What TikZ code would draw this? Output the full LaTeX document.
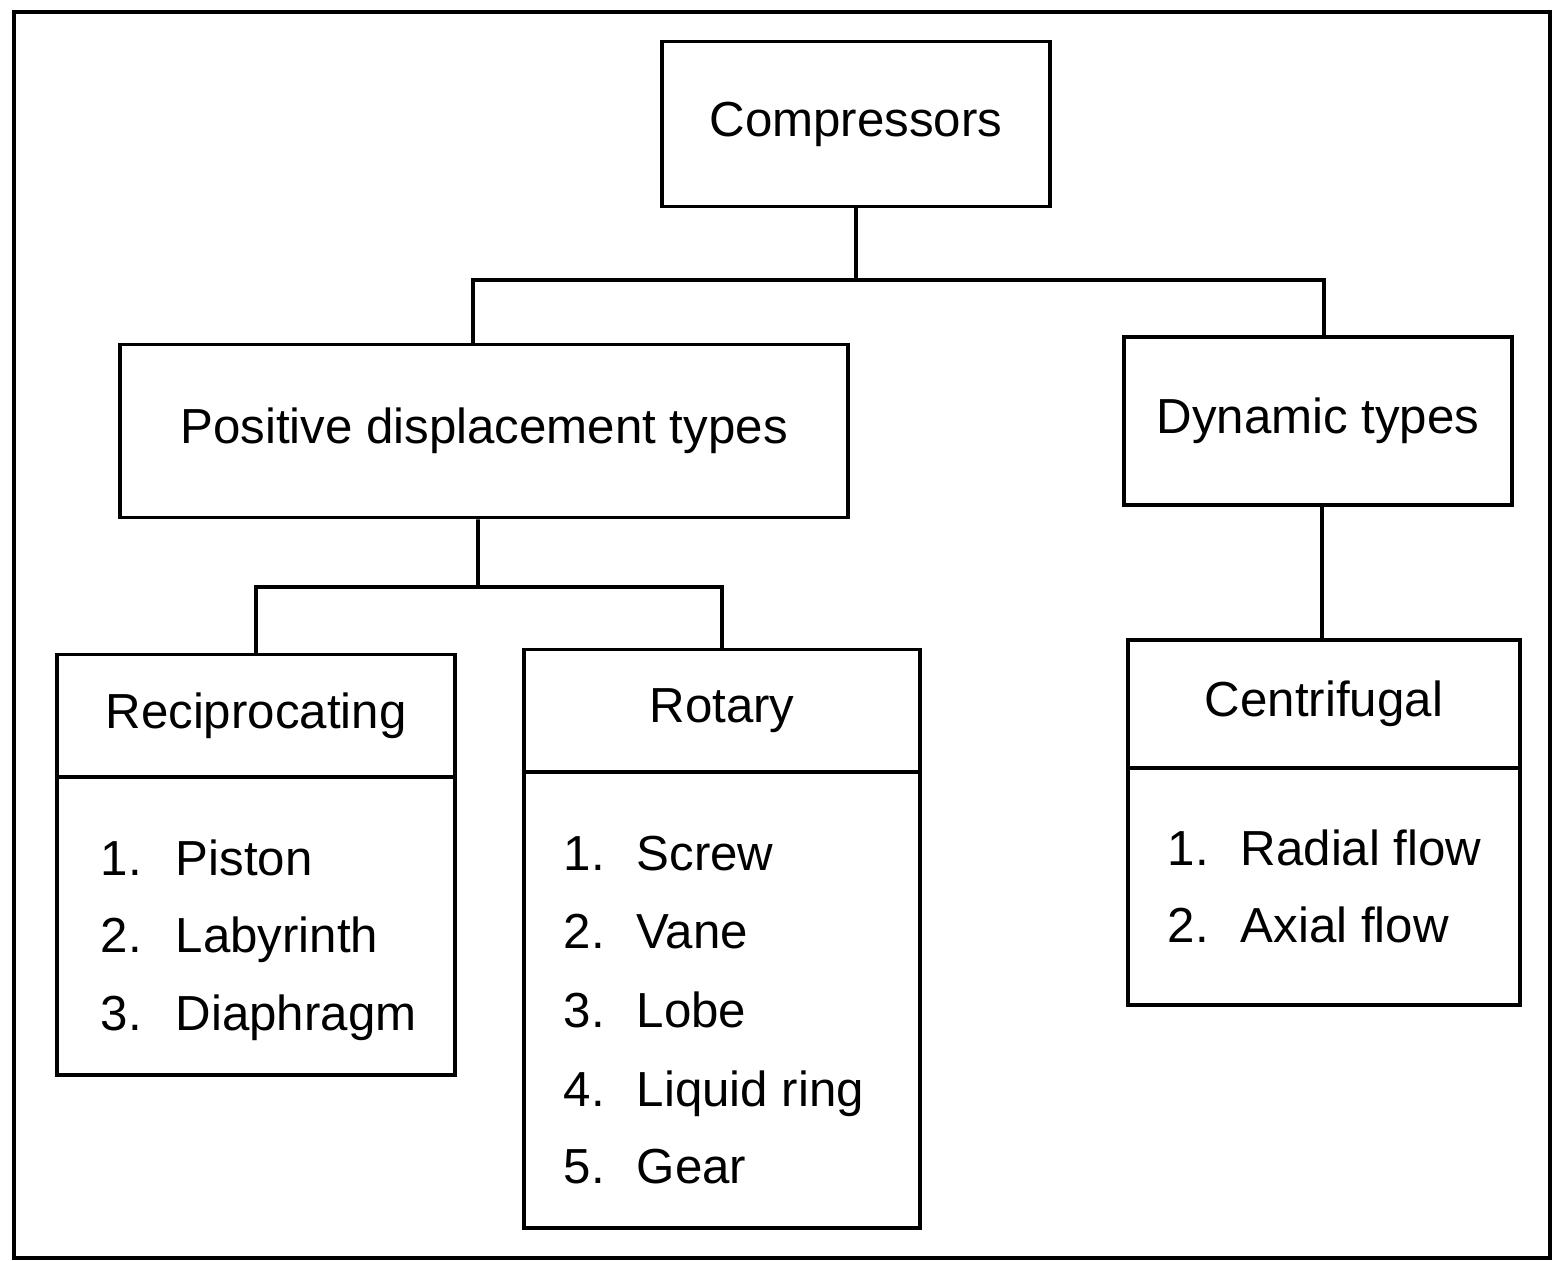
\documentclass[tikz,border=0pt]{standalone}
\usepackage{fontspec}
\setmainfont{Liberation Sans}
\usetikzlibrary{positioning}

\begin{document}
\begin{tikzpicture}[
    x=0.01cm, y=-0.01cm,
    box/.style={draw, line width=1.1pt, inner sep=0pt, font=\fontsize{14}{17}\selectfont},
    wire/.style={line width=1.1pt},
    item/.style={anchor=base west, inner sep=0pt, font=\fontsize{14}{17}\selectfont}
]
    \useasboundingbox (0,0) rectangle (1557,1260);
    \draw[line width=0.9pt] (14,12) rectangle (1550,1258);

    % top level
    \node[box, minimum width=3.88cm, minimum height=1.65cm] (comp) at (856,124) {Compressors};
    \node[box, minimum width=7.28cm, minimum height=1.73cm] (pd) at (484,431) {Positive displacement types};
    \node[box, minimum width=3.87cm, minimum height=1.68cm] (dyn) at (1318,421) {Dynamic types};

    % second level: header + list boxes
    \node[box, minimum width=3.97cm, minimum height=1.23cm] (recip) at (256,716) {Reciprocating};
    \node[box, minimum width=3.97cm, minimum height=2.97cm] (recipl) at (256,926) {};
    \node[box, minimum width=3.95cm, minimum height=1.23cm] (rot) at (722,711) {Rotary};
    \node[box, minimum width=3.95cm, minimum height=4.55cm] (rotl) at (722,1000) {};
    \node[box, minimum width=3.92cm, minimum height=1.28cm] (cent) at (1324,704) {Centrifugal};
    \node[box, minimum width=3.92cm, minimum height=2.37cm] (centl) at (1324,886) {};

    % list entries
    \foreach \n/\t/\y in {1/Piston/875, 2/Labyrinth/952, 3/Diaphragm/1030} {
        \node[item] (rn\n) at (100,\y) {\n.};
        \node[item] (rt\n) at (175,\y) {\t};
    }
    \foreach \n/\t/\y in {1/Screw/870, 2/Vane/948, 3/Lobe/1027, 4/Liquid ring/1106, 5/Gear/1183} {
        \node[item] (on\n) at (563,\y) {\n.};
        \node[item] (ot\n) at (636,\y) {\t};
    }
    \foreach \n/\t/\y in {1/Radial flow/865, 2/Axial flow/942} {
        \node[item] (cn\n) at (1167,\y) {\n.};
        \node[item] (ct\n) at (1240,\y) {\t};
    }

    % connectors
    \coordinate (j1) at (856,280);
    \coordinate (j2) at (478,587);
    \draw[wire] (comp.south) -- (j1);
    \draw[wire] ([xshift=-0.11cm]pd.north) |- (j1) -| ([xshift=0.06cm]dyn.north);
    \draw[wire] ([xshift=-0.06cm]pd.south) -- (j2);
    \draw[wire] (recip.north) |- (j2) -| (rot.north);
    \draw[wire] ([xshift=0.04cm]dyn.south) -- ([xshift=-0.02cm]cent.north);
\end{tikzpicture}
\end{document}
